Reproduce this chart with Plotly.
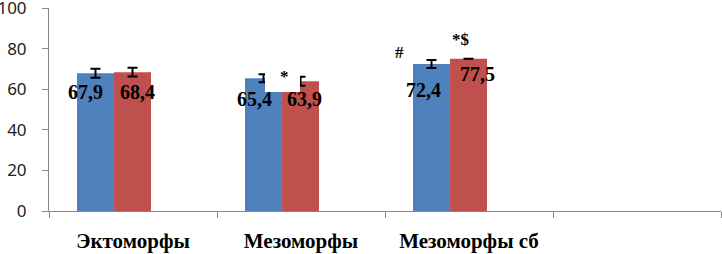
import plotly.graph_objects as go

# ---- data ----
categories = ["Эктоморфы", "Мезоморфы", "Мезоморфы сб", ""]
blue_values = [67.9, 65.4, 72.4]
red_values = [68.4, 63.9, 75.0]
blue_labels = ["67,9", "65,4", "72,4"]
red_labels = ["68,4", "63,9", "77,5"]
blue_err = [2.2, 2.0, 2.0]
red_err = [2.2, 2.2, 0.0]
y_ticks = [0, 20, 40, 60, 80, 100]

# ---- style ----
BLUE = "#4F81BD"
RED = "#C0504D"
AXIS = "#868686"
SERIF = "Liberation Serif, Times New Roman, serif"
SANS = "Noto Sans, Open Sans, sans-serif"
BAR_W = 37 / 168
BLUE_OFF = 28 / 168 - 0.5
RED_OFF = BLUE_OFF + BAR_W
blue_label_shift = [(-10, -19), (-9, -21), (-8, -26)]
red_label_shift = [(5, -20), (4, -18), (9, -15)]

xpos = [i + 0.5 for i in range(len(blue_values))]

fig = go.Figure()
fig.add_trace(go.Bar(
    x=xpos, y=blue_values, width=BAR_W, offset=BLUE_OFF,
    marker=dict(color=BLUE, line=dict(width=0)),
    error_y=dict(type="data", array=blue_err, visible=True,
                 color="black", thickness=2, width=5),
    showlegend=False, hoverinfo="skip",
))
fig.add_trace(go.Bar(
    x=xpos, y=red_values, width=BAR_W, offset=RED_OFF,
    marker=dict(color=RED, line=dict(width=0)),
    error_y=dict(type="data", array=red_err, visible=True,
                 color="black", thickness=2, width=5),
    showlegend=False, hoverinfo="skip",
))

# data labels
for i, (v, t) in enumerate(zip(blue_values, blue_labels)):
    fig.add_annotation(x=xpos[i] + BLUE_OFF + BAR_W / 2, y=v, text=t,
                       showarrow=False, xshift=blue_label_shift[i][0],
                       yshift=blue_label_shift[i][1], yanchor="middle",
                       font=dict(family=SERIF, size=20, color="black", weight="bold"))
for i, (v, t) in enumerate(zip(red_values, red_labels)):
    fig.add_annotation(x=xpos[i] + RED_OFF + BAR_W / 2, y=v, text=t,
                       showarrow=False, xshift=red_label_shift[i][0],
                       yshift=red_label_shift[i][1], yanchor="middle",
                       font=dict(family=SERIF, size=20, color="black", weight="bold"))

# white text box covering part of group 2
fig.add_shape(type="rect", x0=(265 - 49) / 168, x1=(300 - 49) / 168,
              y0=(211 - 92) / 2.03, y1=(211 - 68) / 2.03,
              xref="x", yref="y", fillcolor="white", line=dict(width=0),
              layer="above")

# significance marks
marks = [("*", (284 - 49) / 168, (211 - 76.5) / 2.03),
         ("#", (399 - 49) / 168, (211 - 52.5) / 2.03),
         ("*$", (460.5 - 49) / 168, (211 - 39) / 2.03)]
for t, mx, my in marks:
    fig.add_annotation(x=mx, y=my, text=t, showarrow=False, yanchor="middle",
                       font=dict(family=SERIF, size=17, color="black", weight="bold"))

fig.update_layout(
    width=722, height=254,
    margin=dict(l=49, r=1, t=8, b=43, autoexpand=False),
    paper_bgcolor="white", plot_bgcolor="white",
    barmode="overlay",
    xaxis=dict(
        range=[0, 4], showgrid=False, zeroline=False,
        showline=True, linecolor=AXIS, linewidth=1,
        tickvals=[i + 0.5 for i in range(len(categories))],
        ticktext=categories, ticks="", ticklabelstandoff=11,
        ticklabeloverflow="allow",
        tickfont=dict(family=SERIF, size=21, color="black", weight="bold"),
        minor=dict(ticks="outside", ticklen=6, tickcolor=AXIS, tickwidth=1,
                   dtick=1, tick0=0, showgrid=False),
    ),
    yaxis=dict(
        range=[0, 100], showgrid=False, zeroline=False,
        showline=True, linecolor=AXIS, linewidth=1,
        tickvals=y_ticks, ticks="outside", ticklen=6, tickcolor=AXIS,
        ticklabelstandoff=12, ticklabeloverflow="allow",
        tickfont=dict(family=SANS, size=17, color="#222222"),
    ),
)

fig.write_html("out.html", config={"displayModeBar": False, "staticPlot": True},
               post_script="document.body.style.margin='0';document.body.style.overflow='hidden';")
